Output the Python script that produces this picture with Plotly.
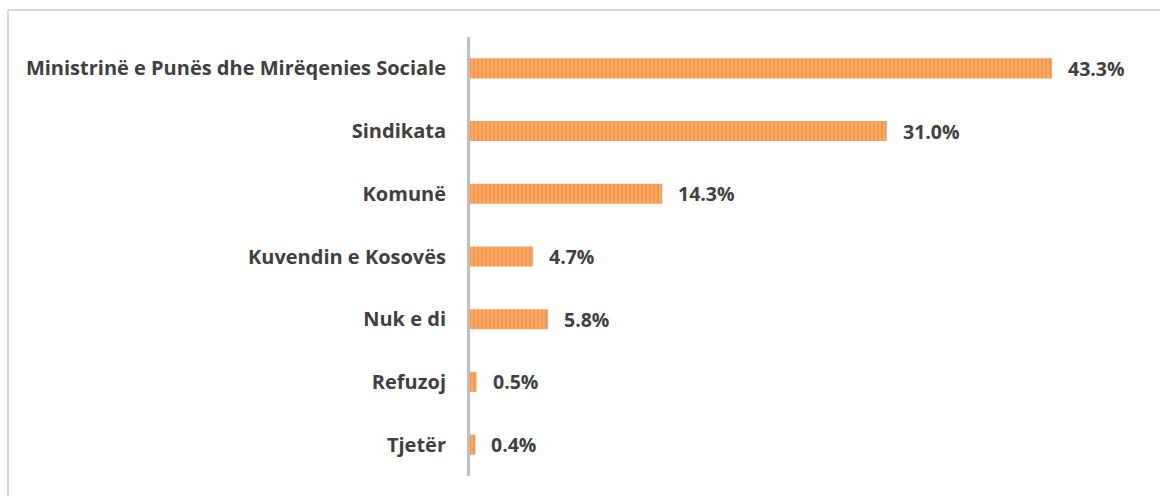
import plotly.graph_objects as go

categories = ['Ministrinë e Punës dhe Mirëqenies Sociale', 'Sindikata', 'Komunë',
              'Kuvendin e Kosovës', 'Nuk e di', 'Refuzoj', 'Tjetër']
values = [43.3, 31.0, 14.3, 4.7, 5.8, 0.5, 0.4]
value_labels = ['43.3%', '31.0%', '14.3%', '4.7%', '5.8%', '0.5%', '0.4%']

W, H = 1160, 496
L, R, T, B = 470, 30, 37, 20
FONT = 'Open Sans'

fig = go.Figure()
fig.add_trace(go.Bar(
    x=values, y=categories, orientation='h',
    marker=dict(color='#F79646', line=dict(width=0),
                pattern=dict(shape='|', fgcolor='#FCD3AF', bgcolor='#F79646',
                             size=4, solidity=0.35)),
    width=0.32, hoverinfo='skip'
))

# value labels next to bars
for v, lab, cat in zip(values, value_labels, categories):
    fig.add_annotation(x=v, y=cat, text=lab, showarrow=False, xanchor='left',
                       xshift=14, font=dict(family=FONT, size=19.5, color='#404040',
                                            weight='bold'))

# outer chart border (top and left visible)
pw, ph = W - L - R, H - T - B
x0 = (8 - L) / pw
y0 = (H - B - 10) / ph
fig.add_shape(type='line', xref='paper', yref='paper', x0=x0, x1=1.2, y0=y0, y1=y0,
              line=dict(color='#D9D9D9', width=2))
fig.add_shape(type='line', xref='paper', yref='paper', x0=x0, x1=x0, y0=y0, y1=-0.2,
              line=dict(color='#D9D9D9', width=2))

fig.update_xaxes(visible=False, range=[0, 49.1])
fig.update_yaxes(autorange='reversed', showline=True, linecolor='#BFBFBF', linewidth=3,
                 showgrid=False, ticks='', ticklabelstandoff=17,
                 tickfont=dict(family=FONT, size=20, color='#404040', weight='bold'))
fig.update_layout(
    width=W, height=H, plot_bgcolor='white', paper_bgcolor='white',
    showlegend=False, margin=dict(l=L, r=R, t=T, b=B, autoexpand=False),
    font=dict(family=FONT, color='#404040')
)

fig.write_html('out.html', config={'displayModeBar': False},
               post_script="document.body.style.margin='0';")
